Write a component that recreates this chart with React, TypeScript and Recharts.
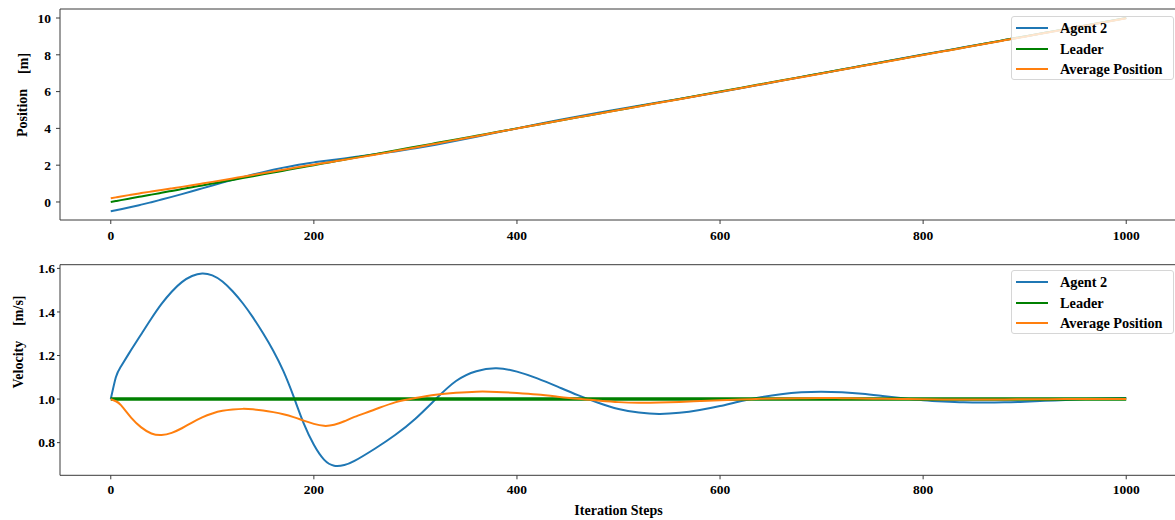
import React from 'react';
import { LineChart, Line, XAxis, YAxis, ReferenceLine } from 'recharts';

// iteration steps (denser near the start where things move fast)
const steps = [
  0, 5, 10, 20, 30, 40, 50, 60, 70, 80, 90, 100, 110, 120, 130, 140, 150, 160, 170, 180, 190, 200,
  210, 220, 230, 240, 260, 280, 300, 320, 340, 360, 380, 400, 420, 440, 460, 480, 500, 520, 540,
  560, 580, 600, 620, 640, 660, 680, 700, 720, 740, 760, 780, 800, 820, 840, 860, 880, 900, 920,
  940, 960, 980, 1000,
];

const agentPos = [
  -0.5, -0.447, -0.391, -0.272, -0.145, -0.011, 0.13, 0.276, 0.428, 0.583, 0.741, 0.898, 1.053,
  1.204, 1.35, 1.49, 1.623, 1.748, 1.866, 1.974, 2.069, 2.152, 2.228, 2.298, 2.368, 2.439, 2.588,
  2.749, 2.924, 3.115, 3.325, 3.547, 3.774, 4.001, 4.223, 4.438, 4.646, 4.846, 5.039, 5.228, 5.415,
  5.602, 5.791, 5.983, 6.179, 6.379, 6.582, 6.788, 6.994, 7.2, 7.406, 7.61, 7.812, 8.012, 8.21,
  8.407, 8.604, 8.801, 8.998, 9.196, 9.395, 9.595, 9.795, 9.996,
];

const leaderPos = [
  0, 0.05, 0.1, 0.2, 0.3, 0.4, 0.5, 0.6, 0.7, 0.8, 0.9, 1.0, 1.1, 1.2, 1.3, 1.4, 1.5, 1.6, 1.7, 1.8,
  1.9, 2.0, 2.1, 2.2, 2.3, 2.4, 2.6, 2.8, 3.0, 3.2, 3.4, 3.6, 3.8, 4.0, 4.2, 4.4, 4.6, 4.8, 5.0,
  5.2, 5.4, 5.6, 5.8, 6.0, 6.2, 6.4, 6.6, 6.8, 7.0, 7.2, 7.4, 7.6, 7.8, 8.0, 8.2, 8.4, 8.6, 8.8,
  9.0, 9.2, 9.4, 9.6, 9.8, 10.0,
];

const avgPos = [
  0.2, 0.25, 0.299, 0.393, 0.482, 0.567, 0.651, 0.735, 0.821, 0.909, 1.0, 1.092, 1.186, 1.281,
  1.377, 1.472, 1.567, 1.662, 1.755, 1.848, 1.939, 2.028, 2.116, 2.204, 2.293, 2.384, 2.572, 2.765,
  2.964, 3.167, 3.372, 3.578, 3.785, 3.991, 4.196, 4.399, 4.6, 4.8, 4.998, 5.195, 5.392, 5.589,
  5.787, 5.985, 6.184, 6.384, 6.584, 6.785, 6.986, 7.187, 7.388, 7.588, 7.788, 7.988, 8.188, 8.388,
  8.587, 8.787, 8.987, 9.187, 9.387, 9.587, 9.787, 9.987,
];

const agentVel = [
  1.0, 1.1, 1.15, 1.225, 1.298, 1.37, 1.437, 1.493, 1.537, 1.565, 1.577, 1.568, 1.54, 1.495, 1.44,
  1.375, 1.302, 1.222, 1.128, 1.012, 0.888, 0.79, 0.722, 0.694, 0.697, 0.716, 0.772, 0.835, 0.91,
  1.0, 1.083, 1.128, 1.141, 1.126, 1.095, 1.057, 1.018, 0.983, 0.954, 0.938, 0.932, 0.937, 0.95,
  0.968, 0.99, 1.008, 1.022, 1.031, 1.034, 1.031, 1.024, 1.014, 1.004, 0.995, 0.989, 0.985, 0.984,
  0.985, 0.988, 0.992, 0.996, 1.0, 1.003, 1.005,
];

const leaderVel = [
  1, 1, 1, 1, 1, 1, 1, 1, 1, 1, 1, 1, 1, 1, 1, 1, 1, 1, 1, 1, 1, 1, 1, 1, 1, 1, 1, 1, 1, 1, 1, 1,
  1, 1, 1, 1, 1, 1, 1, 1, 1, 1, 1, 1, 1, 1, 1, 1, 1, 1, 1, 1, 1, 1, 1, 1, 1, 1, 1, 1, 1, 1, 1, 1,
];

const avgVel = [
  1.0, 0.99, 0.972, 0.915, 0.87, 0.842, 0.835, 0.845, 0.866, 0.892, 0.916, 0.934, 0.946, 0.952,
  0.955, 0.953, 0.948, 0.94, 0.93, 0.917, 0.901, 0.886, 0.877, 0.882, 0.898, 0.918, 0.952, 0.985,
  1.005, 1.02, 1.029, 1.034, 1.033, 1.028, 1.021, 1.011, 1.001, 0.993, 0.986, 0.983, 0.984, 0.987,
  0.991, 0.995, 0.998, 1.001, 1.003, 1.004, 1.005, 1.004, 1.003, 1.001, 1.0, 0.999, 0.998, 0.998,
  0.998, 0.998, 0.999, 0.999, 1.0, 1.0, 1.0, 1.0,
];

const xTicks = [0, 200, 400, 600, 800, 1000];
const posTicks = [0, 2, 4, 6, 8, 10];
const velTicks = [0.8, 1.0, 1.2, 1.4, 1.6];
const seriesNames = ['Agent 2', 'Leader', 'Average Position'];

const BLUE = '#1f77b4';
const GREEN = '#008000';
const ORANGE = '#ff7f0e';
const SPINE = '#3a3a3a';
const FONT = '"Liberation Serif", "Times New Roman", serif';

const POS_DOMAIN: [number, number] = [-0.98, 10.49];
const VEL_DOMAIN: [number, number] = [0.65, 1.617];

const posData = steps.map((s, i) => ({ step: s, agent: agentPos[i], leader: leaderPos[i], avg: avgPos[i] }));
const velData = steps.map((s, i) => ({ step: s, agent: agentVel[i], leader: leaderVel[i], avg: avgVel[i] }));

const tickStyle = { fill: '#000', fontSize: 13.5, fontWeight: 700, fontFamily: FONT };

function YLabel({ cx, cy, main, unit }: { cx: number; cy: number; main: string; unit: string }) {
  return (
    <text
      x={cx}
      y={cy}
      transform={`rotate(-90 ${cx} ${cy})`}
      textAnchor="middle"
      dominantBaseline="central"
      fontFamily={FONT}
      fontWeight={700}
      fontSize={14}
      fill="#000"
    >
      {main}
      <tspan dx={15}>{unit}</tspan>
    </text>
  );
}

function LegendBox({ top }: { top: number }) {
  const colors = [BLUE, GREEN, ORANGE];
  return (
    <div
      style={{
        position: 'absolute',
        left: 1011,
        top,
        width: 163,
        height: 64,
        boxSizing: 'border-box',
        border: '1px solid #d6d6d6',
        borderRadius: 3,
        background: 'rgba(255,255,255,0.8)',
        fontFamily: FONT,
        fontWeight: 700,
        fontSize: 14.3,
      }}
    >
      {seriesNames.map((name, i) => (
        <div key={name} style={{ position: 'absolute', left: 0, top: 2 + i * 20.5, height: 18, width: 160 }}>
          <div style={{ position: 'absolute', left: 4, top: 8, width: 32, height: 2, background: colors[i] }} />
          <div style={{ position: 'absolute', left: 48, top: 0, lineHeight: '18px', whiteSpace: 'nowrap' }}>{name}</div>
        </div>
      ))}
    </div>
  );
}

export default function App() {
  return (
    <div style={{ position: 'absolute', left: 0, top: 0, width: 1175, height: 520, overflow: 'hidden', background: '#fff' }}>
      <div style={{ position: 'absolute', left: 0, top: 0 }}>
        <LineChart width={1180} height={245} data={posData} margin={{ top: 9, right: 3, left: 0, bottom: 0 }}>
          <XAxis
            dataKey="step"
            type="number"
            domain={[-50, 1050]}
            ticks={xTicks}
            allowDataOverflow
            height={25}
            tick={tickStyle}
            tickSize={4}
            tickMargin={6}
            stroke={SPINE}
          />
          <YAxis
            type="number"
            domain={POS_DOMAIN}
            ticks={posTicks}
            allowDataOverflow
            width={60}
            tick={tickStyle}
            tickSize={4}
            tickMargin={5}
            stroke={SPINE}
            label={() => <YLabel cx={22.5} cy={95} main="Position" unit="[m]" />}
          />
          <ReferenceLine y={POS_DOMAIN[1]} stroke={SPINE} strokeWidth={1} />
          <Line type="natural" dataKey="agent" stroke={BLUE} strokeWidth={2} dot={false} isAnimationActive={false} />
          <Line type="natural" dataKey="leader" stroke={GREEN} strokeWidth={2} dot={false} isAnimationActive={false} />
          <Line type="natural" dataKey="avg" stroke={ORANGE} strokeWidth={2} dot={false} isAnimationActive={false} />
        </LineChart>
      </div>
      <LegendBox top={16} />

      <div style={{ position: 'absolute', left: 0, top: 255 }}>
        <LineChart width={1180} height={265} data={velData} margin={{ top: 9.7, right: 3, left: 0, bottom: 0 }}>
          <XAxis
            dataKey="step"
            type="number"
            domain={[-50, 1050]}
            ticks={xTicks}
            allowDataOverflow
            height={44.7}
            tick={tickStyle}
            tickSize={4}
            tickMargin={5}
            stroke={SPINE}
            label={{
              value: 'Iteration Steps',
              position: 'insideBottom',
              offset: 5,
              style: { fill: '#000', fontSize: 14, fontWeight: 700, fontFamily: FONT },
            }}
          />
          <YAxis
            type="number"
            domain={VEL_DOMAIN}
            ticks={velTicks}
            allowDataOverflow
            width={60}
            tick={tickStyle}
            tickSize={3}
            tickMargin={2}
            tickFormatter={(v: number) => v.toFixed(1)}
            stroke={SPINE}
            label={() => <YLabel cx={18} cy={87} main="Velocity" unit="[m/s]" />}
          />
          <ReferenceLine y={VEL_DOMAIN[1]} stroke={SPINE} strokeWidth={1} />
          <Line type="natural" dataKey="agent" stroke={BLUE} strokeWidth={2} dot={false} isAnimationActive={false} />
          <Line type="natural" dataKey="leader" stroke={GREEN} strokeWidth={3.5} dot={false} isAnimationActive={false} />
          <Line type="natural" dataKey="avg" stroke={ORANGE} strokeWidth={2} dot={false} isAnimationActive={false} />
        </LineChart>
      </div>
      <LegendBox top={270} />
    </div>
  );
}
